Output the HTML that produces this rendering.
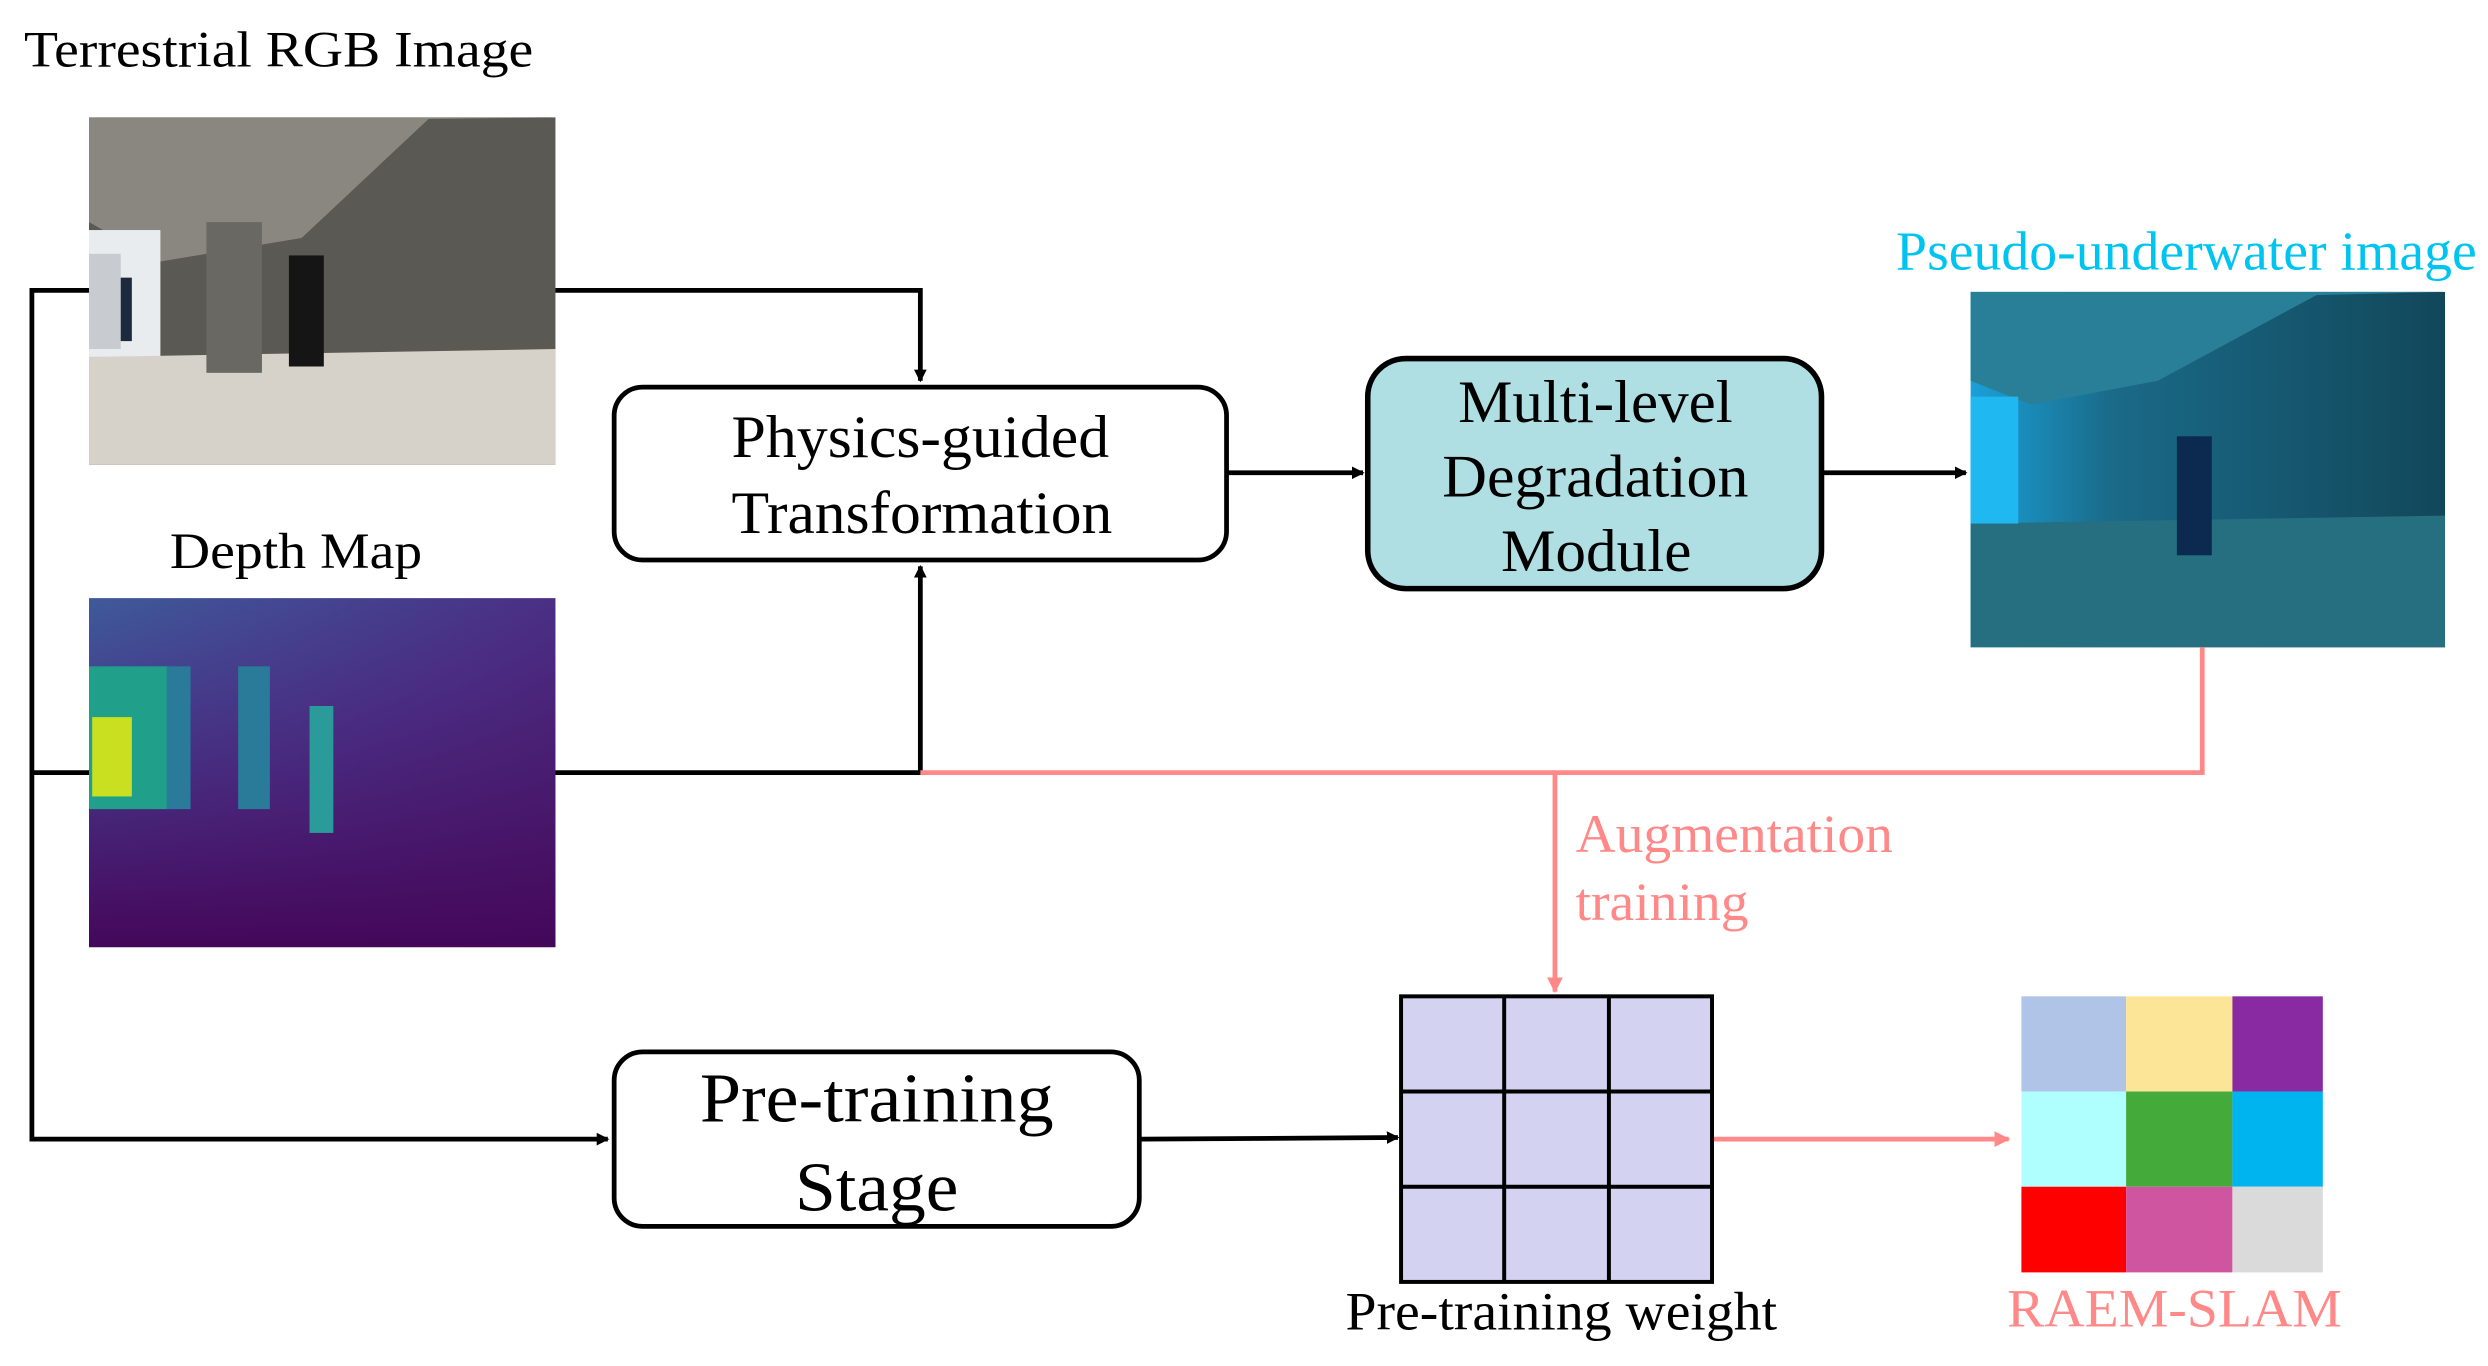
<!DOCTYPE html>
<html><head><meta charset="utf-8"><style>html,body{margin:0;padding:0;background:#fff}svg{display:block}</style></head>
<body>
<svg width="2488" height="1366" viewBox="0 0 1568 861" xmlns="http://www.w3.org/2000/svg" font-family="Liberation Serif, serif">
<defs>
<marker id="ab" markerWidth="8" markerHeight="8" refX="7" refY="4" orient="auto" markerUnits="userSpaceOnUse"><path d="M0,0 L8,4 L0,8 z" fill="#000"/></marker>
<marker id="ap" markerWidth="10" markerHeight="10" refX="9" refY="5" orient="auto" markerUnits="userSpaceOnUse"><path d="M0,0 L10,5 L0,10 z" fill="#f88"/></marker>
<linearGradient id="dg" x1="0" y1="0" x2="1" y2="1"><stop offset="0" stop-color="#3e5a9a"/><stop offset="0.5" stop-color="#4a2f85"/><stop offset="1" stop-color="#4a0a5a"/></linearGradient>
<linearGradient id="dg2" x1="0" y1="0" x2="0" y2="1"><stop offset="0" stop-color="#4a2f85" stop-opacity="0"/><stop offset="1" stop-color="#44075a"/></linearGradient>
<linearGradient id="pg" x1="0" y1="0" x2="1" y2="0"><stop offset="0" stop-color="#1aa0d8"/><stop offset="0.3" stop-color="#1a6a88"/><stop offset="1" stop-color="#12475a"/></linearGradient>
</defs>
<rect width="1568" height="861" fill="#fff"/>
<text x="15" y="42" font-size="32" textLength="321" lengthAdjust="spacingAndGlyphs">Terrestrial RGB Image</text>
<g>
<rect x="56" y="74" width="294" height="219" fill="#5b5953"/>
<polygon points="56,74 350,74 270,75 190,150 100,165 56,140" fill="#8a8780"/>
<rect x="56" y="145" width="45" height="80" fill="#e8ecef"/>
<rect x="58" y="175" width="25" height="40" fill="#1c2a40"/>
<polygon points="56,225 350,220 350,293 56,293" fill="#d6d2c9"/>
<rect x="182" y="161" width="22" height="70" fill="#151515"/>
<rect x="130" y="140" width="35" height="95" fill="#6a6862"/>
<rect x="56" y="160" width="20" height="60" fill="#c8ccd0"/>
</g>
<text x="107" y="358" font-size="32" textLength="159" lengthAdjust="spacingAndGlyphs">Depth Map</text>
<g>
<rect x="56" y="377" width="294" height="220" fill="url(#dg)"/>
<rect x="56" y="377" width="294" height="220" fill="url(#dg2)"/>
<rect x="56" y="420" width="50" height="90" fill="#20a08a"/>
<rect x="58" y="452" width="25" height="50" fill="#c8e020"/>
<rect x="105" y="420" width="15" height="90" fill="#2a7a9a"/>
<rect x="150" y="420" width="20" height="90" fill="#2a7a9a"/>
<rect x="195" y="445" width="15" height="80" fill="#2a9a9a"/>
</g>
<g stroke="#000" stroke-width="3" fill="none">
<polyline points="56,183 20,183 20,718 383,718" marker-end="url(#ab)"/>
<line x1="20" y1="487" x2="56" y2="487"/>
<polyline points="350,183 580,183 580,240" marker-end="url(#ab)"/>
<polyline points="350,487 580,487 580,357" marker-end="url(#ab)"/>
<line x1="773" y1="298" x2="859" y2="298" marker-end="url(#ab)"/>
<line x1="1148" y1="298" x2="1239" y2="298" marker-end="url(#ab)"/>
<line x1="718" y1="718" x2="881" y2="717" marker-end="url(#ab)"/>
</g>
<rect x="387" y="244" width="386" height="109" rx="18" fill="#fff" stroke="#000" stroke-width="3"/>
<text x="461" y="288" font-size="38" textLength="238" lengthAdjust="spacingAndGlyphs">Physics-guided</text>
<text x="461" y="336" font-size="38" textLength="240" lengthAdjust="spacingAndGlyphs">Transformation</text>
<rect x="862" y="226" width="286" height="145" rx="24" fill="#b0dfe3" stroke="#000" stroke-width="3.5"/>
<text x="919" y="266" font-size="38" textLength="173" lengthAdjust="spacingAndGlyphs">Multi-level</text>
<text x="909" y="313" font-size="38" textLength="193" lengthAdjust="spacingAndGlyphs">Degradation</text>
<text x="946" y="360" font-size="38" textLength="120" lengthAdjust="spacingAndGlyphs">Module</text>
<text x="1195" y="170" font-size="35" fill="#00c4f0" textLength="366" lengthAdjust="spacingAndGlyphs">Pseudo-underwater image</text>
<g>
<rect x="1242" y="184" width="299" height="224" fill="url(#pg)"/>
<polygon points="1242,184 1541,184 1460,186 1360,240 1280,255 1242,240" fill="#2a7f98"/>
<polygon points="1242,330 1541,325 1541,408 1242,408" fill="#266f80"/>
<rect x="1242" y="250" width="30" height="80" fill="#20b8f0"/>
<rect x="1372" y="275" width="22" height="75" fill="#0c2a50"/>
</g>
<g stroke="#f88" stroke-width="3" fill="none">
<polyline points="1388,408 1388,487 580,487"/>
<line x1="980" y1="487" x2="980" y2="625" marker-end="url(#ap)"/>
<line x1="1080" y1="718" x2="1266" y2="718" marker-end="url(#ap)"/>
</g>
<text x="993" y="537" font-size="34" fill="#f88" textLength="200" lengthAdjust="spacingAndGlyphs">Augmentation</text>
<text x="993" y="580" font-size="34" fill="#f88" textLength="109" lengthAdjust="spacingAndGlyphs">training</text>
<rect x="387" y="663" width="331" height="110" rx="18" fill="#fff" stroke="#000" stroke-width="3"/>
<text x="441" y="707" font-size="44" textLength="223" lengthAdjust="spacingAndGlyphs">Pre-training</text>
<text x="501" y="763" font-size="44" textLength="103" lengthAdjust="spacingAndGlyphs">Stage</text>
<g stroke="#000" stroke-width="2.5">
<rect x="883" y="628" width="196" height="180" fill="#d3d3f1"/>
<line x1="948" y1="628" x2="948" y2="808"/><line x1="1014" y1="628" x2="1014" y2="808"/>
<line x1="883" y1="688" x2="1079" y2="688"/><line x1="883" y1="748" x2="1079" y2="748"/>
</g>
<text x="848" y="838" font-size="34" textLength="272" lengthAdjust="spacingAndGlyphs">Pre-training weight</text>
<rect x="1274" y="628" width="66" height="60" fill="#b0c4e8"/>
<rect x="1340" y="628" width="67" height="60" fill="#fde598"/>
<rect x="1407" y="628" width="57" height="60" fill="#8a2aa3"/>
<rect x="1274" y="688" width="66" height="60" fill="#b0ffff"/>
<rect x="1340" y="688" width="67" height="60" fill="#44aa3a"/>
<rect x="1407" y="688" width="57" height="60" fill="#00b4f0"/>
<rect x="1274" y="748" width="66" height="54" fill="#ff0000"/>
<rect x="1340" y="748" width="67" height="54" fill="#d055a0"/>
<rect x="1407" y="748" width="57" height="54" fill="#dadada"/>
<text x="1265" y="836" font-size="34" fill="#f88" textLength="211" lengthAdjust="spacingAndGlyphs">RAEM-SLAM</text>
</svg>
</body></html>
